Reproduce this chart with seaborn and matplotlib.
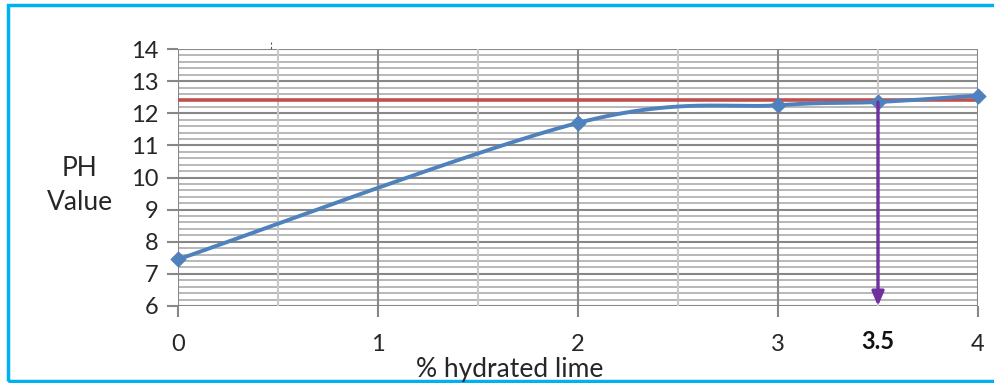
import numpy as np
import pandas as pd
import matplotlib
matplotlib.use("Agg")
import matplotlib.pyplot as plt
from matplotlib.patches import Rectangle
import seaborn as sns

# ---- data ----
lime_pct = [0.0, 2.0, 3.0, 3.5, 4.0]
ph_values = [7.45, 11.7, 12.25, 12.35, 12.55]
ref_ph = 12.4
marked_x = 3.5
marked_label = "3.5"
x_ticks = [0, 1, 2, 3, 4]
y_ticks = [6, 7, 8, 9, 10, 11, 12, 13, 14]

sns.set_theme(style="white")
plt.rcParams['font.family'] = ['Lato', 'DejaVu Sans']

df = pd.DataFrame({"x": lime_pct, "y": ph_values})


def smooth_curve(xs, ys, n=60):
    """Catmull-Rom style Bezier smoothing (like a spreadsheet 'smoothed line')."""
    P = np.column_stack([xs, ys]).astype(float)
    out = []
    for i in range(len(P) - 1):
        p0 = P[i - 1] if i > 0 else P[i]
        p1 = P[i]
        p2 = P[i + 1]
        p3 = P[i + 2] if i + 2 < len(P) else P[i + 1]
        c1 = p1 + (p2 - p0) / 6.0
        c2 = p2 - (p3 - p1) / 6.0
        t = np.linspace(0, 1, n)[:, None]
        seg = ((1 - t) ** 3) * p1 + 3 * ((1 - t) ** 2) * t * c1 + 3 * (1 - t) * t ** 2 * c2 + t ** 3 * p2
        out.append(seg if i == 0 else seg[1:])
    out = np.vstack(out)
    return out[:, 0], out[:, 1]


fig = plt.figure(figsize=(9.94, 3.83), dpi=100)
ax = fig.add_axes([178 / 994, 1 - 306 / 383, 800 / 994, 257 / 383])

ax.set_xlim(0, 4)
ax.set_ylim(6, 14)

# grid
major_c = "#878787"
minor_c = "#b8b8b8"
for yv in np.arange(6, 14.001, 0.2):
    if abs(yv - round(yv)) < 1e-6:
        continue
    ax.axhline(yv, color=minor_c, lw=1.4, zorder=0)
for yv in y_ticks:
    ax.axhline(yv, color=major_c, lw=1.5, zorder=0.5)
for xv in [0.5, 1.5, 2.5, 3.5]:
    ax.axvline(xv, color="#c8c8c8", lw=1.5, zorder=0.6)
for xv in x_ticks:
    ax.axvline(xv, color=major_c, lw=1.5, zorder=0.7)

for s in ax.spines.values():
    s.set_visible(False)

# reference line
ax.plot([0, 4], [ref_ph, ref_ph], color="#c0504d", lw=2.6, zorder=2, solid_capstyle="butt")

# smoothed series
sx, sy = smooth_curve(lime_pct, ph_values)
sns.lineplot(x=sx, y=sy, ax=ax, color="#4f81bd", lw=2.8, sort=False, zorder=3)
sns.scatterplot(data=df, x="x", y="y", ax=ax, marker="D", s=60, color="#4f81bd",
                edgecolor="#4f81bd", zorder=4, clip_on=False)

# purple arrow
ax.annotate("", xy=(marked_x, 6.0), xytext=(marked_x, ph_values[lime_pct.index(marked_x)]),
            arrowprops=dict(arrowstyle="-|>,head_length=0.7,head_width=0.3", color="#7030a0",
                            lw=2.4, shrinkA=0, shrinkB=0), zorder=5)

ax.set_xticks(x_ticks)
ax.set_yticks(y_ticks)
ax.set_xticklabels([str(v) for v in x_ticks], fontsize=17)
ax.set_yticklabels([str(v) for v in y_ticks], fontsize=17)
ax.tick_params(axis="y", which="major", length=8, width=1.5, color=major_c, direction="out", pad=6, left=True)
ax.tick_params(axis="x", which="major", length=8, width=1.5, color=major_c, direction="out", pad=12, bottom=True)
ax.set_xlabel("")
ax.set_ylabel("")

ax.text(marked_x, 4.88, marked_label, ha="center", va="center", fontsize=17,
        fontweight="bold", color="#111111", transform=ax.transData, clip_on=False)

fig.text(80 / 994, 1 - 186 / 383, "PH\nValue", ha="center", va="center", fontsize=19,
         linespacing=1.45)
fig.text(510 / 994, 1 - 369.5 / 383, "% hydrated lime", ha="center", va="center", fontsize=19)

# small tick artifact at top
fig.add_artist(plt.Line2D([271 / 994, 271 / 994], [1 - 42 / 383, 1 - 50 / 383],
                          color="#555555", lw=0.8, ls=(0, (2, 2))))

# outer blue frame
fig.add_artist(Rectangle((8 / 994, 2 / 383), 1.2, 1 - 7 / 383, transform=fig.transFigure,
                         fill=False, edgecolor="#00b0f0", lw=2.5))

fig.savefig("out.png", dpi=100)
